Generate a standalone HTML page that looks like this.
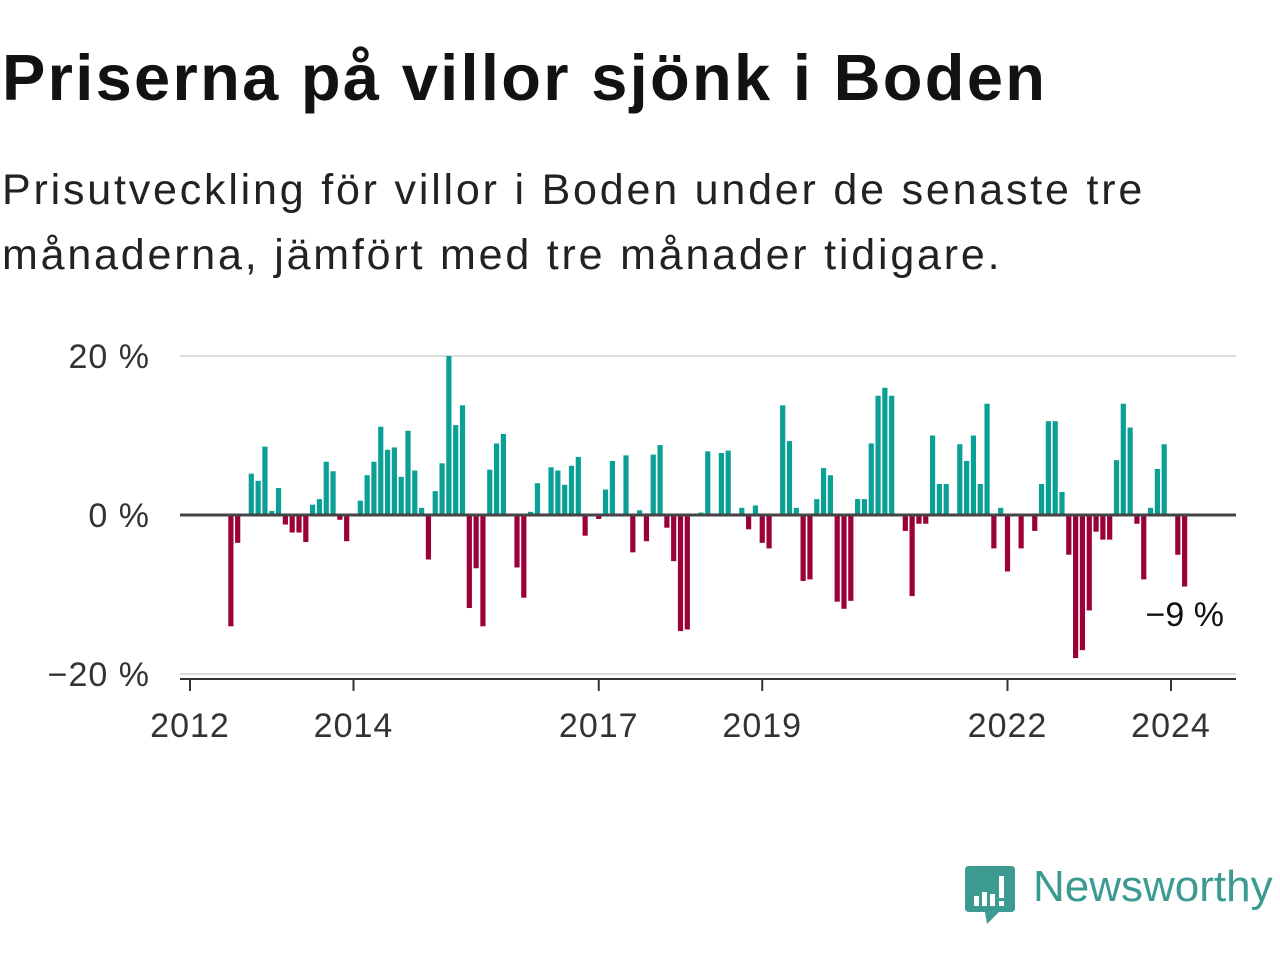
<!DOCTYPE html>
<html><head><meta charset="utf-8">
<style>
body{margin:0;width:1280px;height:960px;background:#fff;font-family:"Liberation Sans",sans-serif;overflow:hidden}
.t{position:absolute;left:2px;top:40px;font-size:65px;font-weight:bold;color:#121212;white-space:nowrap;letter-spacing:2.3px}
.s{position:absolute;left:2px;top:158px;font-size:43px;line-height:65px;color:#222;white-space:nowrap;letter-spacing:2.8px}
</style></head><body>
<div class="t">Priserna på villor sjönk i Boden</div>
<div class="s">Prisutveckling för villor i Boden under de senaste tre<br>månaderna, jämfört med tre månader tidigare.</div>
<svg id="c" width="1280" height="960" style="position:absolute;left:0;top:0"></svg>
<div style="position:absolute;left:965px;top:864px">
<svg width="52" height="62"><path d="M4 2 H46 Q50 2 50 6 V44 Q50 48 46 48 H34 L22 60 L20 48 H4 Q0 48 0 44 V6 Q0 2 4 2Z" fill="#3b9b91"/><rect x="9" y="32" width="5" height="10" fill="#fff"/><rect x="17" y="28" width="5" height="14" fill="#fff"/><rect x="25" y="30" width="5" height="12" fill="#fff"/><rect x="34" y="12" width="5" height="22" fill="#fff"/><rect x="34" y="37" width="5" height="5" fill="#fff"/></svg>
<span style="position:absolute;left:68px;top:-2px;font-size:44px;color:#3b9b91;white-space:nowrap">Newsworthy</span></div>
<script>
const startYear = 2012;
const startMonth = 6; // July (0-based) of first bar
const values = [-14,-3.5,0,5.2,4.3,8.6,0.5,3.4,-1.2,-2.2,-2.2,-3.4,1.3,2,6.7,5.5,-0.6,-3.3,0,1.8,5,6.7,11.1,8.2,8.5,4.8,10.6,5.6,0.9,-5.6,3,6.5,20,11.3,13.8,-11.7,-6.7,-14,5.7,9,10.2,0,-6.6,-10.4,0.4,4,0,6,5.6,3.8,6.2,7.3,-2.6,0,-0.5,3.2,6.8,0,7.5,-4.7,0.6,-3.3,7.6,8.8,-1.6,-5.8,-14.6,-14.4,0,0.3,8,0,7.8,8.1,0,0.9,-1.8,1.2,-3.5,-4.2,0,13.8,9.3,0.9,-8.3,-8.1,2,5.9,5,-10.9,-11.8,-10.8,2,2,9,15,16,15,0,-2,-10.2,-1.1,-1.1,10,3.9,3.9,0,8.9,6.8,10,3.9,14,-4.2,0.9,-7.1,0,-4.2,0,-2,3.9,11.8,11.8,2.9,-5,-18,-17,-12,-2.1,-3.1,-3.1,6.9,14,11,-1.1,-8.1,0.9,5.8,8.9,0,-5,-9];
const yTicks = [20,0,-20];
const yTickLabels = ["20 %","0 %","\u221220 %"];
const xTicks = [2012,2014,2017,2019,2022,2024];
const lastLabel = "\u22129 %";
const NS="http://www.w3.org/2000/svg", svg=document.getElementById('c');
const x = m => 190 + m*81.75/12;
const y = v => 515 - v*7.95;
function mk(t,a){const e=document.createElementNS(NS,t);for(const k in a)e.setAttribute(k,a[k]);svg.appendChild(e);return e;}
yTicks.forEach((t,i)=>{
  if(t!==0){const g=mk('line',{x1:180,x2:1236,y1:y(t),y2:y(t),stroke:'#ddd','stroke-width':2});
  
  }
  const l=mk('text',{x:150,y:y(t)+12,'text-anchor':'end','font-size':34,'letter-spacing':1,fill:'#333','font-family':'Liberation Sans, sans-serif'});
  l.textContent=yTickLabels[i];
  
  
});
values.forEach((v,i)=>{
  const m=startMonth+i; if(v===0)return;
  const r=mk('rect',{x:x(m)-2.6,width:5.2,y:Math.min(y(v),y(0)),height:Math.abs(y(v)-y(0)),fill:v>0?'#0aa095':'#9c0039'});
  
  
});
const z=mk('line',{x1:180,x2:1236,y1:y(0),y2:y(0),stroke:'#444','stroke-width':3});


const ax=mk('line',{x1:180,x2:1236,y1:679,y2:679,stroke:'#333','stroke-width':2});


xTicks.forEach(yr=>{
  const px=x((yr-startYear)*12);
  const tk=mk('line',{x1:px,x2:px,y1:679,y2:691,stroke:'#333','stroke-width':2});
  
  
  const t=mk('text',{x:px,y:737,'text-anchor':'middle','font-size':34,'letter-spacing':1,fill:'#333','font-family':'Liberation Sans, sans-serif'});
  t.textContent=yr;
  
  
});
const ll=mk('text',{x:1224,y:626,'text-anchor':'end','font-size':34,fill:'#111','font-family':'Liberation Sans, sans-serif'});
ll.textContent=lastLabel;


</script>
</body></html>
